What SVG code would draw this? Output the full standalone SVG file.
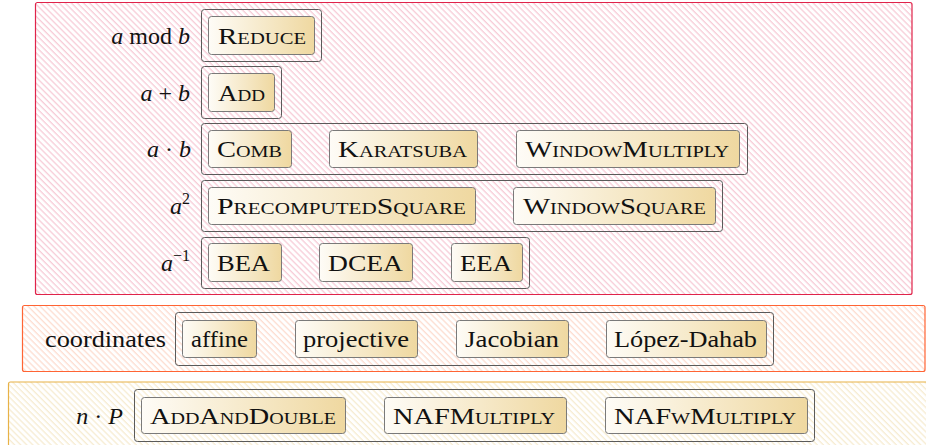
<svg xmlns="http://www.w3.org/2000/svg" width="926" height="445" viewBox="0 0 926 445" font-family="Liberation Serif, serif" font-size="24">
  <defs>
    <!-- diagonal hatching for the three layer panels -->
    <pattern id="hatchRed" width="4.3" height="10" patternUnits="userSpaceOnUse" patternTransform="rotate(-45)">
      <line x1="1" y1="0" x2="1" y2="10" stroke="#f5bccb" stroke-width="1"/>
    </pattern>
    <pattern id="hatchOrange" width="4.3" height="10" patternUnits="userSpaceOnUse" patternTransform="rotate(-45)">
      <line x1="1" y1="0" x2="1" y2="10" stroke="#fcd2c2" stroke-width="1"/>
    </pattern>
    <pattern id="hatchYellow" width="4.3" height="10" patternUnits="userSpaceOnUse" patternTransform="rotate(-45)">
      <line x1="1" y1="0" x2="1" y2="10" stroke="#f4e6c4" stroke-width="1"/>
    </pattern>
    <linearGradient id="fillAlgo" x1="0" y1="0" x2="1" y2="0">
      <stop offset="0" stop-color="#fefcf7"/>
      <stop offset="1" stop-color="#efd8a0"/>
    </linearGradient>
  </defs>
  <style>
    .grp { fill: none; stroke: #5a5a5a; stroke-width: 1; }
    .algo { fill: url(#fillAlgo); stroke: #7a7a7a; stroke-width: 1; }
    text { fill: #111; }
    .sc { font-size: 17px; }
    .it { font-style: italic; }
    .sup { font-size: 16px; }
    .lbl { text-anchor: end; }
  </style>

  <!-- layer panels -->
  <g id="panel-field">
    <rect x="35.5" y="2.5" width="876.5" height="292" rx="2" fill="url(#hatchRed)" stroke="#e0234a" stroke-width="1.2"/>
  </g>
  <g id="panel-coords">
    <rect x="22.5" y="305.5" width="902.5" height="66" rx="2" fill="url(#hatchOrange)" stroke="#ff6434" stroke-width="1.2"/>
  </g>
  <g id="panel-scalar">
    <rect x="8.5" y="382" width="930" height="80" rx="2" fill="url(#hatchYellow)" stroke="#e8b247" stroke-width="1.2"/>
  </g>

  <!-- a mod b -->
  <g id="row-reduce">
    <text class="lbl" x="190" y="44"><tspan class="it">a</tspan> mod <tspan class="it">b</tspan></text>
    <rect class="grp" x="201.5" y="9.5" width="120" height="52" rx="3"/>
    <g id="reduce">
      <rect class="algo" x="208.5" y="16.5" width="106" height="38" rx="3"/>
      <text x="218" y="44" textLength="88" lengthAdjust="spacingAndGlyphs">R<tspan class="sc">EDUCE</tspan></text>
    </g>
  </g>

  <!-- a + b -->
  <g id="row-add">
    <text class="lbl" x="190" y="100.5"><tspan class="it">a</tspan> + <tspan class="it">b</tspan></text>
    <rect class="grp" x="201.5" y="66.5" width="80" height="52" rx="3"/>
    <g id="add">
      <rect class="algo" x="208.5" y="73.5" width="66" height="38" rx="3"/>
      <text x="218" y="100.5" textLength="47" lengthAdjust="spacingAndGlyphs">A<tspan class="sc">DD</tspan></text>
    </g>
  </g>

  <!-- a · b -->
  <g id="row-mul">
    <text class="lbl" x="191" y="157"><tspan class="it">a</tspan> · <tspan class="it">b</tspan></text>
    <rect class="grp" x="201.5" y="123.5" width="546" height="51" rx="3"/>
    <g id="comb">
      <rect class="algo" x="208.5" y="130.5" width="83" height="37" rx="3"/>
      <text x="217" y="157" textLength="65" lengthAdjust="spacingAndGlyphs">C<tspan class="sc">OMB</tspan></text>
    </g>
    <g id="karatsuba">
      <rect class="algo" x="329.5" y="130.5" width="148" height="37" rx="3"/>
      <text x="338" y="157" textLength="129" lengthAdjust="spacingAndGlyphs">K<tspan class="sc">ARATSUBA</tspan></text>
    </g>
    <g id="windowmultiply">
      <rect class="algo" x="516.5" y="130.5" width="223" height="37" rx="3"/>
      <text x="525" y="157" textLength="204" lengthAdjust="spacingAndGlyphs">W<tspan class="sc">INDOW</tspan>M<tspan class="sc">ULTIPLY</tspan></text>
    </g>
  </g>

  <!-- a^2 -->
  <g id="row-sqr">
    <text class="lbl" x="190" y="214"><tspan class="it">a</tspan><tspan class="sup" dy="-10">2</tspan></text>
    <rect class="grp" x="201.5" y="180.5" width="521" height="51" rx="3"/>
    <g id="precomputedsquare">
      <rect class="algo" x="208.5" y="187.5" width="267" height="37" rx="3"/>
      <text x="217" y="214" textLength="249" lengthAdjust="spacingAndGlyphs">P<tspan class="sc">RECOMPUTED</tspan>S<tspan class="sc">QUARE</tspan></text>
    </g>
    <g id="windowsquare">
      <rect class="algo" x="513.5" y="187.5" width="202" height="37" rx="3"/>
      <text x="523" y="214" textLength="183" lengthAdjust="spacingAndGlyphs">W<tspan class="sc">INDOW</tspan>S<tspan class="sc">QUARE</tspan></text>
    </g>
  </g>

  <!-- a^-1 -->
  <g id="row-inv">
    <text class="lbl" x="190" y="270.5"><tspan class="it">a</tspan><tspan class="sup" dy="-10">−1</tspan></text>
    <rect class="grp" x="201.5" y="237.5" width="328" height="51" rx="3"/>
    <g id="bea">
      <rect class="algo" x="208.5" y="243.5" width="73" height="38" rx="3"/>
      <text x="217" y="270.5" textLength="53" lengthAdjust="spacingAndGlyphs">BEA</text>
    </g>
    <g id="dcea">
      <rect class="algo" x="319.5" y="243.5" width="93" height="38" rx="3"/>
      <text x="328" y="270.5" textLength="75" lengthAdjust="spacingAndGlyphs">DCEA</text>
    </g>
    <g id="eea">
      <rect class="algo" x="451.5" y="243.5" width="71" height="38" rx="3"/>
      <text x="460" y="270.5" textLength="52" lengthAdjust="spacingAndGlyphs">EEA</text>
    </g>
  </g>

  <!-- coordinates -->
  <g id="row-coords">
    <text x="45" y="347" textLength="121" lengthAdjust="spacingAndGlyphs">coordinates</text>
    <rect class="grp" x="175.5" y="312.5" width="598" height="53" rx="3"/>
    <g id="affine">
      <rect class="algo" x="182.5" y="320.5" width="74" height="37" rx="3"/>
      <text x="191" y="347" textLength="57" lengthAdjust="spacingAndGlyphs">affine</text>
    </g>
    <g id="projective">
      <rect class="algo" x="295.5" y="320.5" width="122" height="37" rx="3"/>
      <text x="303" y="347" textLength="106" lengthAdjust="spacingAndGlyphs">projective</text>
    </g>
    <g id="jacobian">
      <rect class="algo" x="456.5" y="320.5" width="112" height="37" rx="3"/>
      <text x="465" y="347" textLength="94" lengthAdjust="spacingAndGlyphs">Jacobian</text>
    </g>
    <g id="lopezdahab">
      <rect class="algo" x="606.5" y="320.5" width="160" height="37" rx="3"/>
      <text x="614" y="347" textLength="143" lengthAdjust="spacingAndGlyphs">López-Dahab</text>
    </g>
  </g>

  <!-- n · P -->
  <g id="row-scalar">
    <text class="lbl" x="123" y="423.5"><tspan class="it">n</tspan> · <tspan class="it">P</tspan></text>
    <rect class="grp" x="134.5" y="389.5" width="680" height="52" rx="3"/>
    <g id="addanddouble">
      <rect class="algo" x="141.5" y="397.5" width="204" height="36" rx="3"/>
      <text x="150" y="423.5" textLength="186" lengthAdjust="spacingAndGlyphs">A<tspan class="sc">DD</tspan>A<tspan class="sc">ND</tspan>D<tspan class="sc">OUBLE</tspan></text>
    </g>
    <g id="nafmultiply">
      <rect class="algo" x="384.5" y="397.5" width="182" height="36" rx="3"/>
      <text x="393" y="423.5" textLength="162" lengthAdjust="spacingAndGlyphs">NAFM<tspan class="sc">ULTIPLY</tspan></text>
    </g>
    <g id="nafwmultiply">
      <rect class="algo" x="605.5" y="397.5" width="202" height="36" rx="3"/>
      <text x="614" y="423.5" textLength="182" lengthAdjust="spacingAndGlyphs">NAF<tspan class="sc">W</tspan>M<tspan class="sc">ULTIPLY</tspan></text>
    </g>
  </g>

  <g id="connectors"/>
</svg>
